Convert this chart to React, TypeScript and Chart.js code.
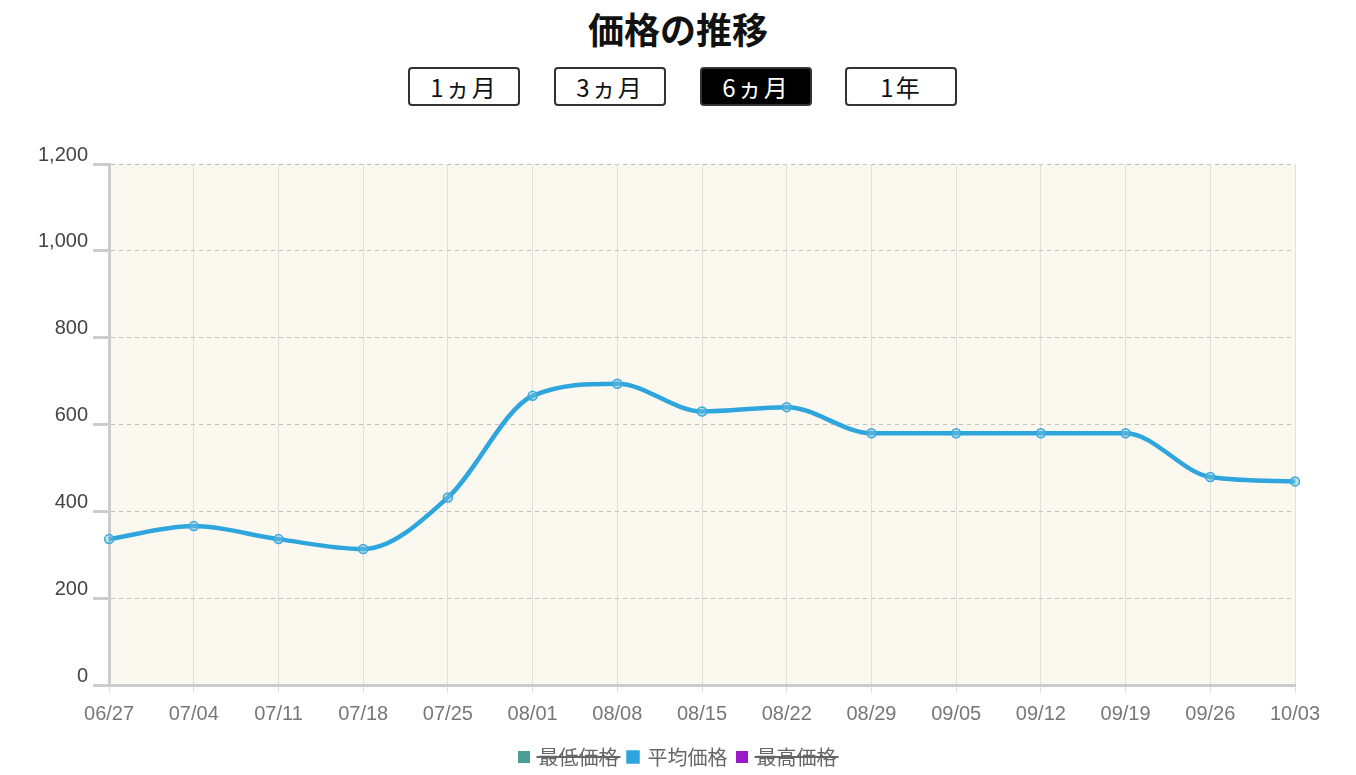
import React, { useEffect, useRef } from 'react';
import { Chart, registerables, Plugin } from 'chart.js';

Chart.register(...registerables);

const labels = ['06/27', '07/04', '07/11', '07/18', '07/25', '08/01', '08/08', '08/15', '08/22', '08/29', '09/05', '09/12', '09/19', '09/26', '10/03'];
const avgPrices = [336, 366, 336, 313, 432, 666, 694, 630, 640, 580, 580, 580, 580, 479, 469];
// 最低価格・最高価格は非表示なので値は読めない
const minPrices: number[] = [];
const maxPrices: number[] = [];
const periods = ['1ヵ月', '3ヵ月', '6ヵ月', '1年'];
const activePeriod = '6ヵ月';

const legendBox = 9;
const legendFontSize = 20;

const plotBackground: Plugin<'line'> = {
    id: 'plotBackground',
    beforeDraw(chart) {
        const { ctx, chartArea } = chart;
        ctx.save();
        ctx.fillStyle = '#fbf8ef';
        ctx.fillRect(chartArea.left, chartArea.top, chartArea.width, chartArea.height);
        ctx.restore();
    }
};

// 凡例をキャンバス全体の中央に寄せる
const legendCenter: Plugin<'line'> = {
    id: 'legendCenter',
    afterLayout(chart) {
        const legend: any = chart.legend;
        if (!legend) return;
        const dx = chart.width / 2 - (legend.left + legend.right) / 2;
        legend.left += dx;
        legend.right += dx;
        legend.top += 2;
        legend.bottom += 2;
    }
};

// 非表示系列の凡例に取り消し線を引く
const legendStrike: Plugin<'line'> = {
    id: 'legendStrike',
    afterDraw(chart) {
        const legend: any = chart.legend;
        if (!legend || !legend.legendItems) return;
        const { ctx } = chart;
        ctx.save();
        ctx.strokeStyle = '#666666';
        ctx.lineWidth = 2;
        legend.legendItems.forEach((item: any, i: number) => {
            if (chart.isDatasetVisible(item.datasetIndex)) return;
            const hb = legend.legendHitBoxes[i];
            const x1 = hb.left + legendBox + legendFontSize / 2 - 2;
            const x2 = hb.left + hb.width + 2;
            const y = hb.top + hb.height / 2;
            ctx.beginPath();
            ctx.moveTo(x1, y);
            ctx.lineTo(x2, y);
            ctx.stroke();
        });
        ctx.restore();
    }
};

const PriceChart: React.FC = () => {
    const canvasRef = useRef<HTMLCanvasElement>(null);

    useEffect(() => {
        const ctx = canvasRef.current?.getContext('2d');
        if (!ctx) return;
        const chart = new Chart(ctx, {
            type: 'line',
            data: {
                labels,
                datasets: [
                    {
                        label: '最低価格',
                        data: minPrices,
                        hidden: true,
                        borderColor: '#4a9e98',
                        backgroundColor: '#4a9e98'
                    },
                    {
                        label: '平均価格',
                        data: avgPrices,
                        borderColor: '#2ea6dd',
                        backgroundColor: '#2ea6dd',
                        borderWidth: 4.5,
                        cubicInterpolationMode: 'monotone',
                        pointRadius: 4.5,
                        pointBorderWidth: 1.5,
                        pointBorderColor: '#3aa9dc',
                        pointBackgroundColor: 'rgba(120,190,225,0.45)'
                    },
                    {
                        label: '最高価格',
                        data: maxPrices,
                        hidden: true,
                        borderColor: '#9b19c9',
                        backgroundColor: '#9b19c9'
                    }
                ]
            },
            options: {
                animation: false,
                responsive: true,
                maintainAspectRatio: false,
                layout: { padding: { left: 25, right: 53, top: 44, bottom: 0 } },
                scales: {
                    x: {
                        grid: {
                            color: '#e2dfd8',
                            lineWidth: 1,
                            tickLength: 8,
                            tickColor: '#e2dfd8'
                        },
                        border: { color: '#cccccc', width: 3 },
                        ticks: {
                            color: '#777777',
                            padding: 9,
                            maxRotation: 0,
                            font: { family: '"Liberation Sans", Arial, sans-serif', size: 20 }
                        }
                    },
                    y: {
                        min: 0,
                        max: 1200,
                        grid: {
                            color: '#c4c2bc',
                            lineWidth: 1,
                            tickLength: 16,
                            tickColor: '#cccccc',
                            tickWidth: 3,
                            tickBorderDash: []
                        },
                        border: { color: '#cccccc', width: 3, dash: [4, 4] },
                        ticks: {
                            stepSize: 200,
                            color: '#444444',
                            padding: 5,
                            labelOffset: -9,
                            font: { family: '"Liberation Sans", Arial, sans-serif', size: 20 }
                        }
                    }
                },
                plugins: {
                    legend: {
                        position: 'bottom',
                        labels: {
                            boxWidth: legendBox,
                            boxHeight: legendBox,
                            padding: 10,
                            color: '#666666',
                            font: { family: '"Noto Sans CJK JP", sans-serif', size: legendFontSize },
                            generateLabels(c) {
                                // 取り消し線は legendStrike で描く
                                return Chart.defaults.plugins.legend.labels.generateLabels(c).map(l => ({ ...l, hidden: false }));
                            }
                        }
                    },
                    tooltip: { enabled: false }
                }
            },
            plugins: [plotBackground, legendCenter, legendStrike]
        });
        return () => chart.destroy();
    }, []);

    return (
        <div style={{ position: 'absolute', top: 112, left: 0, width: 1340, height: 655 }}>
            <canvas ref={canvasRef} />
        </div>
    );
};

const App: React.FC = () => {
    return (
        <div style={{ position: 'relative', width: 1340, height: 767, marginBottom: -8, overflow: 'hidden', fontFamily: '"Noto Sans CJK JP", sans-serif' }}>
            <div style={{ position: 'absolute', top: 0, left: 0, width: '100%', textAlign: 'center', fontSize: 36, fontWeight: 'bold', lineHeight: '40px', color: '#111' }}>
                価格の推移
            </div>
            {periods.map((p, i) => {
                const active = p === activePeriod;
                return (
                    <div
                        key={p}
                        style={{
                            position: 'absolute',
                            top: 59,
                            left: [400, 546, 692, 837][i],
                            width: 112,
                            height: 39,
                            boxSizing: 'border-box',
                            border: '2px solid #333',
                            borderRadius: 4,
                            background: active ? '#000' : '#fff',
                            color: active ? '#fff' : '#111',
                            fontSize: 24,
                            letterSpacing: 2,
                            lineHeight: '35px',
                            textAlign: 'center'
                        }}
                    >
                        {p}
                    </div>
                );
            })}
            <PriceChart />
        </div>
    );
};

export default App;
